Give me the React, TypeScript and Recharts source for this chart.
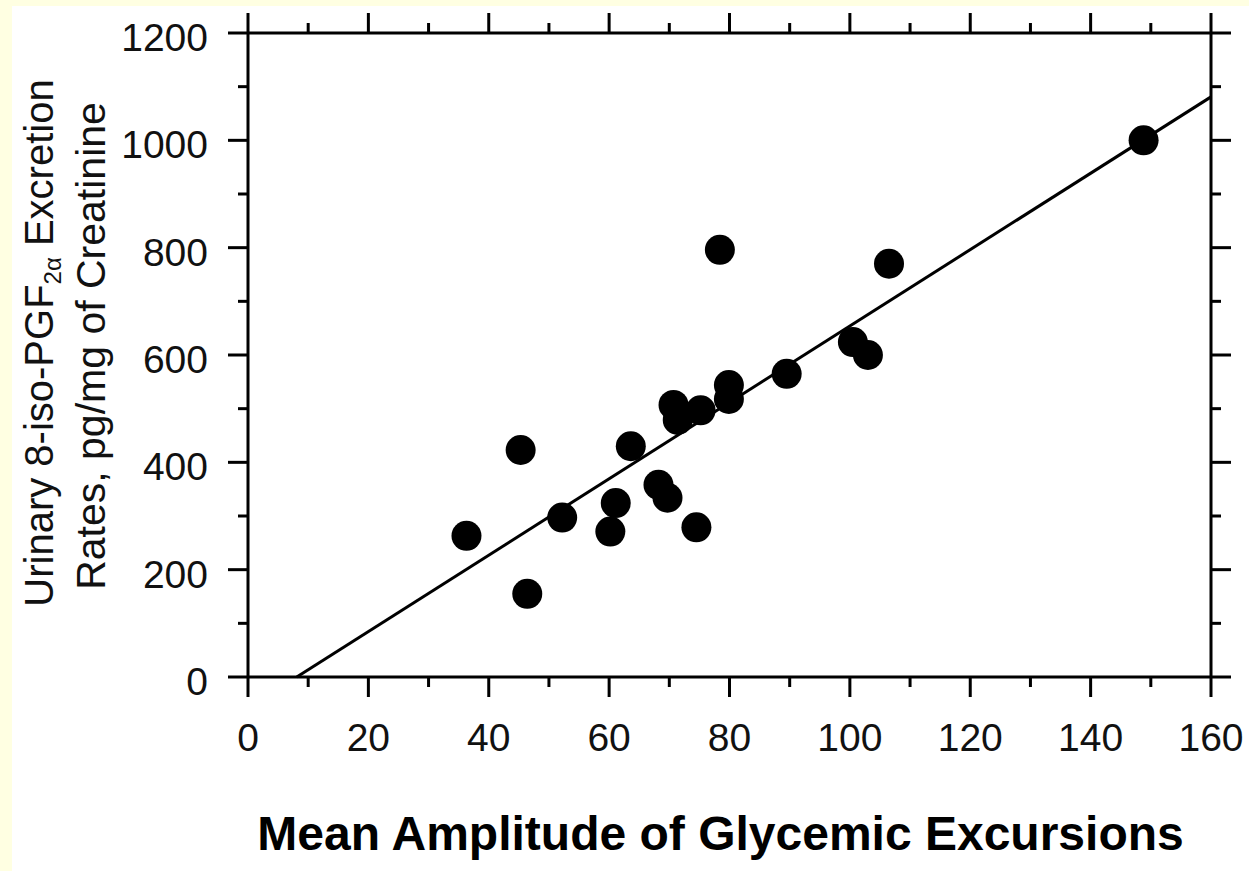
import React from 'react';
import { ScatterChart, Scatter, XAxis, YAxis } from 'recharts';

// ---- data ----
const maxValues = [36.3, 45.3, 46.4, 52.2, 60.2, 61.1, 63.6, 68.2, 69.7, 70.7, 71.4, 74.5, 75.2, 78.4, 79.9, 79.9, 89.5, 100.5, 103.0, 106.5, 148.8];
const isoValues = [263, 423, 155, 297, 271, 324, 430, 358, 334, 507, 479, 279, 497, 796, 544, 518, 565, 624, 600, 770, 1000];
const fitX = [8.1, 160];
const fitY = [0, 1081];
const xTicks = [0, 10, 20, 30, 40, 50, 60, 70, 80, 90, 100, 110, 120, 130, 140, 150, 160];
const yTicks = [0, 100, 200, 300, 400, 500, 600, 700, 800, 900, 1000, 1100, 1200];
const xLabelStep = 20;
const yLabelStep = 200;

const points = maxValues.map((x, i) => ({ x, y: isoValues[i] }));
const fitLine = fitX.map((x, i) => ({ x, y: fitY[i] }));

const FONT = "'Liberation Sans', Arial, Helvetica, sans-serif";
const MAJOR = 20;
const MINOR = 10;
const SW = 3;

const tickLeft = (props: any) => {
  const { x, y, payload } = props;
  const v = payload.value;
  const major = v % yLabelStep === 0;
  const len = major ? MAJOR : MINOR;
  return (
    <g>
      <line x1={x - len} x2={x} y1={y} y2={y} stroke="#000" strokeWidth={SW} />
      {major && (
        <text x={x - 40} y={y} dy={18} textAnchor="end" fontSize={39} fontFamily={FONT} fill="#111">
          {v}
        </text>
      )}
    </g>
  );
};

const tickRight = (props: any) => {
  const { x, y, payload } = props;
  const major = payload.value % yLabelStep === 0;
  const len = major ? MAJOR : MINOR;
  return <line x1={x} x2={x + len} y1={y} y2={y} stroke="#000" strokeWidth={SW} />;
};

const tickBottom = (props: any) => {
  const { x, y, payload } = props;
  const v = payload.value;
  const major = v % xLabelStep === 0;
  const len = major ? MAJOR : MINOR;
  return (
    <g>
      <line x1={x} x2={x} y1={y} y2={y + len} stroke="#000" strokeWidth={SW} />
      {major && (
        <text x={x} y={y + 74} textAnchor="middle" fontSize={39} fontFamily={FONT} fill="#111">
          {v}
        </text>
      )}
    </g>
  );
};

const tickTop = (props: any) => {
  const { x, y, payload } = props;
  const major = payload.value % xLabelStep === 0;
  const len = major ? MAJOR : MINOR;
  return <line x1={x} x2={x} y1={y - len} y2={y} stroke="#000" strokeWidth={SW} />;
};

const YTitle = (props: any) => {
  const vb = props.viewBox || { x: 0, y: 27, width: 236, height: 644 };
  const cy = vb.y + vb.height / 2 - 12;
  return (
    <g>
      <text
        transform={`translate(41, ${cy}) rotate(-90)`}
        x={0}
        y={0}
        textAnchor="middle"
        fontSize={40}
        fontFamily={FONT}
        fill="#111"
      >
        Urinary 8-iso-PGF
        <tspan fontSize={24} dy={8}>2α</tspan>
        <tspan dy={-8}> Excretion</tspan>
      </text>
      <text
        transform={`translate(93, ${cy + 3}) rotate(-90)`}
        x={0}
        y={0}
        textAnchor="middle"
        fontSize={41}
        fontFamily={FONT}
        fill="#111"
      >
        Rates, pg/mg of Creatinine
      </text>
    </g>
  );
};

const XTitle = (props: any) => {
  const vb = props.viewBox || { x: 236, y: 671, width: 963, height: 194 };
  return (
    <text
      x={vb.x + vb.width / 2 - 9}
      y={vb.y + 173}
      textAnchor="middle"
      fontSize={48}
      fontWeight="bold"
      fontFamily={FONT}
      fill="#000"
    >
      Mean Amplitude of Glycemic Excursions
    </text>
  );
};

const Dot = (props: any) => <circle cx={props.cx} cy={props.cy} r={15} fill="#000" />;
const NoDot = () => <g />;

export default function App() {
  return (
    <div style={{ position: 'absolute', left: 0, top: 0, width: 1249, height: 871, background: '#FFFFE2' }}>
      <div style={{ position: 'absolute', left: 12, top: 6, width: 1237, height: 865, background: '#FFFFFF' }}>
        <ScatterChart width={1237} height={865} margin={{ top: 0, right: 0, bottom: 0, left: 0 }}>
          <XAxis
            xAxisId="b"
            dataKey="x"
            type="number"
            orientation="bottom"
            domain={[0, 160]}
            ticks={xTicks}
            interval={0}
            height={194}
            tickSize={0}
            tickMargin={0}
            tickLine={false}
            axisLine={{ stroke: '#000', strokeWidth: SW }}
            tick={tickBottom}
            label={{ content: XTitle }}
          />
          <XAxis
            xAxisId="t"
            dataKey="x"
            type="number"
            orientation="top"
            domain={[0, 160]}
            ticks={xTicks}
            interval={0}
            height={27}
            tickSize={0}
            tickMargin={0}
            tickLine={false}
            axisLine={{ stroke: '#000', strokeWidth: SW }}
            tick={tickTop}
          />
          <YAxis
            yAxisId="l"
            dataKey="y"
            type="number"
            orientation="left"
            domain={[0, 1200]}
            ticks={yTicks}
            interval={0}
            width={236}
            tickSize={0}
            tickMargin={0}
            tickLine={false}
            axisLine={{ stroke: '#000', strokeWidth: SW }}
            tick={tickLeft}
            label={{ content: YTitle }}
          />
          <YAxis
            yAxisId="r"
            dataKey="y"
            type="number"
            orientation="right"
            domain={[0, 1200]}
            ticks={yTicks}
            interval={0}
            width={38}
            tickSize={0}
            tickMargin={0}
            tickLine={false}
            axisLine={{ stroke: '#000', strokeWidth: SW }}
            tick={tickRight}
          />
          <Scatter
            xAxisId="t"
            yAxisId="r"
            data={points}
            shape={NoDot}
            isAnimationActive={false}
          />
          <Scatter
            xAxisId="b"
            yAxisId="l"
            data={fitLine}
            line={{ stroke: '#000', strokeWidth: 3 }}
            shape={NoDot}
            isAnimationActive={false}
          />
          <Scatter
            xAxisId="b"
            yAxisId="l"
            data={points}
            shape={Dot}
            isAnimationActive={false}
          />
        </ScatterChart>
      </div>
    </div>
  );
}
